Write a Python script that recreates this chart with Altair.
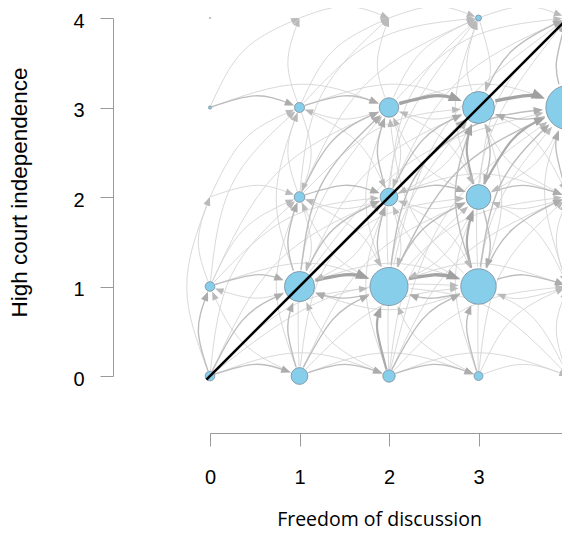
import math
import altair as alt
import pandas as pd

# ---- data: states (freedom of discussion, high court independence) ----
node_x = [0, 1, 2, 3, 4, 0, 1, 2, 3, 4, 0, 1, 2, 3, 4, 0, 1, 2, 3, 4, 0, 1, 2, 3, 4]
node_y = [0, 0, 0, 0, 0, 1, 1, 1, 1, 1, 2, 2, 2, 2, 2, 3, 3, 3, 3, 3, 4, 4, 4, 4, 4]
node_n = [30, 90, 49, 25, 0,
          30, 289, 462, 400, 16,
          0, 36, 100, 196, 36,
          3, 32, 121, 324, 625,
          0.3, 0, 0, 11, 36]

# transitions: (from x, from y, to x, to y, weight class)
edges = [
    (0, 0, 1, 0, 2), (0, 0, 0, 1, 2), (0, 0, 1, 1, 2), (0, 0, 2, 1, 1), (0, 0, 2, 0, 1),
    (0, 0, 0, 2, 1), (0, 0, 1, 2, 1), (0, 0, 3, 1, 1), (0, 0, 2, 2, 1),
    (1, 0, 2, 0, 2), (1, 0, 1, 1, 2), (1, 0, 2, 1, 2), (1, 0, 3, 1, 1), (1, 0, 2, 2, 1),
    (1, 0, 3, 2, 1), (1, 0, 1, 2, 1), (1, 0, 2, 3, 1), (1, 0, 3, 0, 1), (1, 0, 0, 1, 1),
    (2, 0, 3, 0, 2), (2, 0, 2, 1, 3), (2, 0, 3, 1, 2), (2, 0, 1, 1, 1), (2, 0, 3, 2, 1),
    (2, 0, 4, 1, 1), (2, 0, 2, 2, 1), (2, 0, 4, 2, 1), (2, 0, 4, 0, 1),
    (2, 0, 3, 3, 1), (2, 0, 4, 3, 1),
    (3, 0, 3, 1, 2), (3, 0, 4, 1, 1), (3, 0, 4, 0, 1), (3, 0, 2, 1, 1), (3, 0, 4, 2, 1),
    (3, 0, 3, 2, 1), (3, 0, 4, 3, 1),
    (4, 0, 4, 1, 1),
    (0, 1, 1, 1, 2), (0, 1, 0, 2, 1), (0, 1, 1, 2, 1), (0, 1, 2, 1, 1), (0, 1, 1, 3, 1),
    (0, 1, 2, 2, 1), (0, 1, 2, 3, 1),
    (1, 1, 2, 1, 4), (1, 1, 1, 2, 2), (1, 1, 2, 2, 2), (1, 1, 2, 3, 2), (1, 1, 3, 3, 1),
    (1, 1, 3, 1, 1), (1, 1, 3, 2, 1), (1, 1, 4, 3, 1), (1, 1, 0, 1, 1), (1, 1, 1, 3, 1),
    (2, 1, 3, 1, 4), (2, 1, 2, 2, 2), (2, 1, 3, 2, 2), (2, 1, 3, 3, 2), (2, 1, 4, 3, 2),
    (2, 1, 2, 3, 1), (2, 1, 1, 1, 2), (2, 1, 4, 2, 1),
    (2, 1, 4, 1, 1), (2, 1, 1, 2, 1), (2, 1, 4, 4, 1), (2, 1, 3, 4, 1),
    (2, 1, 4, 0, 1),
    (3, 1, 3, 2, 3), (3, 1, 4, 1, 2), (3, 1, 4, 2, 2), (3, 1, 4, 3, 2), (3, 1, 3, 3, 2),
    (3, 1, 2, 1, 2), (3, 1, 2, 2, 1), (3, 1, 4, 0, 1),
    (3, 1, 1, 1, 1), (3, 1, 4, 4, 1), (3, 1, 2, 3, 1),
    (4, 1, 4, 2, 1), (4, 1, 3, 1, 1), (4, 1, 4, 3, 1),
    (0, 2, 1, 2, 1), (0, 2, 1, 3, 1),
    (1, 2, 2, 2, 2), (1, 2, 1, 3, 1), (1, 2, 2, 3, 2), (1, 2, 1, 1, 1), (1, 2, 2, 1, 1),
    (1, 2, 3, 3, 1), (1, 2, 3, 4, 1), (1, 2, 2, 4, 1),
    (2, 2, 3, 2, 2), (2, 2, 2, 3, 2), (2, 2, 3, 3, 2), (2, 2, 4, 3, 2), (2, 2, 2, 1, 1),
    (2, 2, 1, 2, 1), (2, 2, 3, 1, 1), (2, 2, 3, 4, 1), (2, 2, 4, 2, 1), (2, 2, 1, 1, 1),
    (2, 2, 4, 4, 1),
    (3, 2, 4, 2, 2), (3, 2, 3, 3, 3), (3, 2, 4, 3, 3), (3, 2, 3, 1, 2), (3, 2, 2, 2, 1),
    (3, 2, 2, 1, 1), (3, 2, 4, 1, 1), (3, 2, 2, 3, 1), (3, 2, 4, 4, 1), (3, 2, 3, 4, 1),
    (4, 2, 4, 3, 2), (4, 2, 3, 2, 1), (4, 2, 4, 1, 1), (4, 2, 3, 3, 1),
    (0, 3, 1, 3, 2), (0, 3, 1, 4, 1), (0, 3, 2, 3, 1),
    (1, 3, 2, 3, 2), (1, 3, 1, 4, 1), (1, 3, 2, 4, 1), (1, 3, 3, 4, 1), (1, 3, 1, 2, 1),
    (1, 3, 3, 3, 1), (1, 3, 2, 2, 1),
    (2, 3, 3, 3, 4), (2, 3, 2, 4, 1), (2, 3, 3, 4, 1), (2, 3, 4, 3, 1), (2, 3, 2, 2, 1),
    (2, 3, 4, 4, 1), (2, 3, 1, 3, 1), (2, 3, 3, 2, 1),
    (3, 3, 4, 3, 4), (3, 3, 3, 4, 1), (3, 3, 4, 4, 2), (3, 3, 3, 2, 2), (3, 3, 2, 3, 1),
    (3, 3, 4, 2, 1), (3, 3, 2, 2, 1), (3, 3, 3, 1, 1),
    (4, 3, 4, 4, 2), (4, 3, 3, 3, 2), (4, 3, 4, 2, 2), (4, 3, 3, 2, 1), (4, 3, 4, 1, 1),
    (1, 4, 2, 4, 1), (2, 4, 3, 4, 1), (3, 4, 4, 4, 1), (3, 4, 3, 3, 1), (4, 4, 4, 3, 1),
]

diag_x = [-0.04, 4.4]
diag_y = [-0.04, 4.4]

tick_values = [0, 1, 2, 3, 4]

# ---- styles ----
PX = 89.5          # pixels per unit (used to convert node radii)
K = 0.13           # edge curvature (sagitta / chord)
ALEN = {1: 8.5, 2: 9.5, 3: 11.0, 4: 13.0}
LINE_W = {1: 0.9, 2: 1.4, 3: 2.2, 4: 3.4}
LINE_C = {1: "#d5d5d5", 2: "#bdbdbd", 3: "#ababab", 4: "#a4a4a4"}
HEAD_C = {1: "#bababa", 2: "#acacac", 3: "#a4a4a4", 4: "#a0a0a0"}
ARROW = "M0,-1L-0.8,1L0.8,1Z"
PLOT_W = 352       # visible plot width; the x=4 column sits just beyond it

size_of = {(x, y): n for x, y, n in zip(node_x, node_y, node_n)}

path_rows, head_rows = [], []
for i, (x0, y0, x1, y1, w) in enumerate(edges):
    dx, dy = x1 - x0, y1 - y0
    L = math.hypot(dx, dy)
    ux, uy = dx / L, dy / L
    nx, ny = -uy, ux
    h = K * L
    mx, my = (x0 + x1) / 2 + nx * h, (y0 + y1) / 2 + ny * h
    t0x, t0y = ux * L / 2 + nx * 1.5 * h, uy * L / 2 + ny * 1.5 * h
    t1x, t1y = ux * L / 2 - nx * 1.5 * h, uy * L / 2 - ny * 1.5 * h
    n0 = math.hypot(t0x, t0y)
    t0x, t0y = t0x / n0, t0y / n0
    n1 = math.hypot(t1x, t1y)
    t1x, t1y = t1x / n1, t1y / n1
    r0 = math.sqrt(size_of[(x0, y0)]) / PX
    r1 = math.sqrt(size_of[(x1, y1)]) / PX
    a = ALEN[w] / PX
    sx, sy = x0 + t0x * r0, y0 + t0y * r0
    ex, ey = x1 - t1x * r1, y1 - t1y * r1
    path_rows += [
        {"id": i, "k": 0, "x": sx, "y": sy, "w": w},
        {"id": i, "k": 1, "x": mx, "y": my, "w": w},
        {"id": i, "k": 2, "x": ex - t1x * a * 0.6, "y": ey - t1y * a * 0.6, "w": w},
    ]
    head_rows.append({"x": ex - t1x * a / 2, "y": ey - t1y * a / 2, "w": w,
                      "ang": math.degrees(math.atan2(t1x, t1y)) % 360,
                      "asz": ALEN[w] ** 2, "col": HEAD_C[w]})

paths = pd.DataFrame(path_rows)
heads = pd.DataFrame(head_rows).sort_values("w")
nodes = pd.DataFrame({"x": node_x, "y": node_y, "n": node_n})
diag = pd.DataFrame({"x": diag_x, "y": diag_y})

xaxis = alt.Axis(values=tick_values, offset=57, tickSize=13, labelPadding=21,
                 labelFontSize=20, labelFont="Liberation Sans", labelColor="black",
                 labelFlush=False, labelOverlap=False, format="d",
                 domainColor="#9a9a9a", tickColor="#9a9a9a", domainWidth=1, tickWidth=1,
                 grid=False, titleFont="Open Sans", titleFontSize=19.5,
                 titleFontWeight="normal", titleColor="black", titleX=169, titleY=92,
                 titleAlign="center", titleBaseline="alphabetic", titleAngle=0)
yaxis = alt.Axis(values=tick_values, offset=97, tickSize=13, labelPadding=16,
                 labelFontSize=20, labelFont="Liberation Sans", labelColor="black",
                 labelOffset=3, labelFlush=False, labelOverlap=False, format="d",
                 domainColor="#9a9a9a", tickColor="#9a9a9a", domainWidth=1, tickWidth=1,
                 grid=False, titleFont="Liberation Sans", titleFontSize=22.5,
                 titleFontWeight="normal", titleColor="black", titleAngle=270,
                 titleX=-87, titleY=174, titleAlign="center", titleBaseline="alphabetic")

xs = alt.Scale(domain=[0, PLOT_W / PX], nice=False, zero=False)
ys = alt.Scale(domain=[0, 4], nice=False, zero=False)
X = alt.X("x:Q", scale=xs, axis=xaxis, title="Freedom of discussion")
Y = alt.Y("y:Q", scale=ys, axis=yaxis, title="High court independence")

layers = []
for w in [1, 2, 3, 4]:
    layers.append(
        alt.Chart(paths[paths.w == w]).mark_line(
            interpolate="natural", strokeWidth=LINE_W[w], color=LINE_C[w], strokeCap="butt"
        ).encode(x=X, y=Y, detail="id:N", order="k:Q")
    )

layers.append(
    alt.Chart(heads).mark_point(shape=ARROW, filled=True, opacity=1, strokeWidth=0).encode(
        x=X, y=Y,
        angle=alt.Angle("ang:Q", scale=None),
        size=alt.Size("asz:Q", scale=None),
        color=alt.Color("col:N", scale=None),
    )
)

layers.append(
    alt.Chart(nodes).mark_circle(opacity=1, fill="#87CEEB", stroke="#7a8c99", strokeWidth=0.8).encode(
        x=X, y=Y,
        size=alt.Size("n:Q", scale=alt.Scale(domain=[0, 625], range=[0, math.pi * 625]), legend=None),
    )
)

layers.append(
    alt.Chart(diag).mark_line(color="black", strokeWidth=2.6).encode(x=X, y=Y)
)

chart = alt.layer(*layers).properties(
    width=PLOT_W, height=358,
    autosize=alt.AutoSizeParams(type="none"),
    padding={"left": 202, "top": 10, "right": 0, "bottom": 170},
    background="white",
).configure_view(stroke=None)

chart.save("out.html", embed_options={"renderer": "svg", "actions": False})
